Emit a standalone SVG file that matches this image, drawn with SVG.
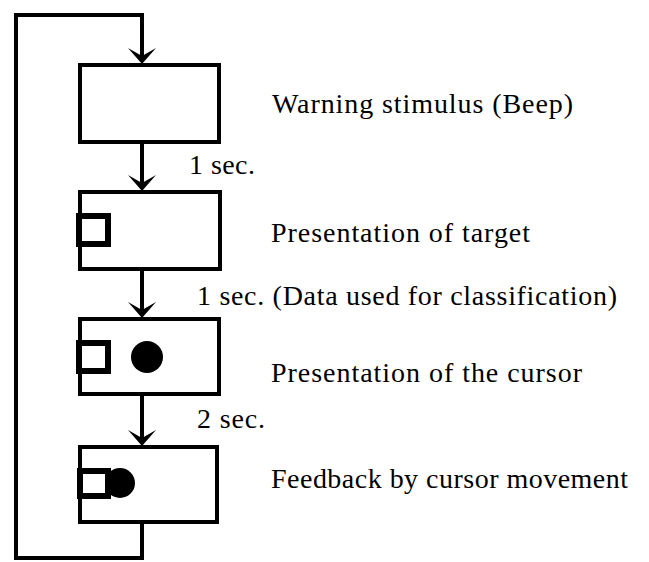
<svg xmlns="http://www.w3.org/2000/svg" width="649" height="562" viewBox="0 0 649 562">
<style>
.box{fill:#fff;stroke:#000;stroke-width:4}
.sq{fill:#fff;stroke:#000;stroke-width:6}
.dot{fill:#000}
.ln{fill:none;stroke:#000;stroke-width:4}
.arr{fill:#000}
</style>
<g id="connectors">
<path class="ln" d="M142,522 L142,558 L16,558 L16,15 L142,15 L142,58"/>
<line class="ln" x1="142" y1="142" x2="142" y2="185"/>
<line class="ln" x1="142" y1="269" x2="142" y2="312"/>
<line class="ln" x1="142" y1="394" x2="142" y2="440"/>
<path class="arr" d="M142,64 L128,48 L142,56 L156,48 Z"/>
<path class="arr" d="M142,191 L128,175 L142,183 L156,175 Z"/>
<path class="arr" d="M142,318 L128,302 L142,310 L156,302 Z"/>
<path class="arr" d="M142,446 L128,430 L142,438 L156,430 Z"/>
<text x="189" y="174" font-family="Liberation Serif" font-size="28" textLength="66" lengthAdjust="spacing">1 sec.</text>
<text x="197" y="305" font-family="Liberation Serif" font-size="28" textLength="420" lengthAdjust="spacing">1 sec. (Data used for classification)</text>
<text x="197" y="428" font-family="Liberation Serif" font-size="28" textLength="68" lengthAdjust="spacing">2 sec.</text>
</g>
<g id="node-warning">
<rect class="box" x="80" y="65" width="139" height="77"/>
<text x="272" y="113" font-family="Liberation Serif" font-size="28" textLength="301" lengthAdjust="spacing">Warning stimulus (Beep)</text>
</g>
<g id="node-target">
<rect class="box" x="80" y="192" width="140" height="77"/>
<rect class="sq" x="79" y="216" width="29" height="28"/>
<text x="271" y="242" font-family="Liberation Serif" font-size="28" textLength="259" lengthAdjust="spacing">Presentation of target</text>
</g>
<g id="node-cursor">
<rect class="box" x="80" y="319" width="139" height="75"/>
<rect class="sq" x="79" y="343" width="29" height="28"/>
<circle class="dot" cx="147" cy="357" r="16"/>
<text x="271" y="382" font-family="Liberation Serif" font-size="28" textLength="311" lengthAdjust="spacing">Presentation of the cursor</text>
</g>
<g id="node-feedback">
<rect class="box" x="80" y="447" width="137" height="75"/>
<rect class="sq" x="80" y="471" width="28" height="25"/>
<circle class="dot" cx="120" cy="483" r="15"/>
<text x="271" y="488" font-family="Liberation Serif" font-size="28" textLength="357" lengthAdjust="spacing">Feedback by cursor movement</text>
</g>
</svg>
